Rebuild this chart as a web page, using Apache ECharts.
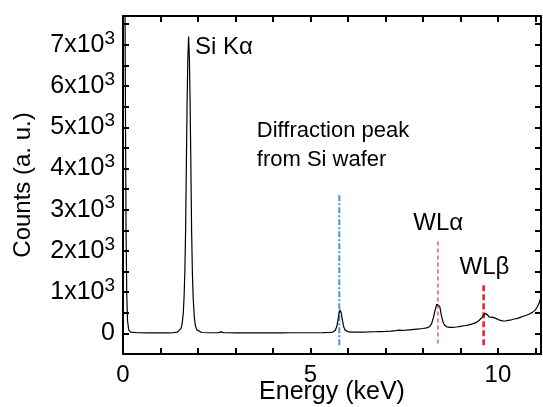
<!DOCTYPE html>
<html>
<head>
<meta charset="utf-8">
<script src="https://cdn.jsdelivr.net/npm/echarts@6/dist/echarts.min.js"></script>
<style>
    html, body { margin: 0; padding: 0; background: #fff; }
    #chart { width: 543px; height: 407px; }
</style>
</head>
<body>
<div id="chart"></div>
<script>
// spectrum (keV, counts)
var energy = [
    0.00, 0.03, 0.06, 0.08, 0.10, 0.12, 0.15, 0.20, 0.40, 0.70, 1.00, 1.20,
    1.35, 1.45, 1.50, 1.55, 1.58, 1.61, 1.63, 1.65, 1.67, 1.69, 1.71, 1.73,
    1.75, 1.77, 1.79, 1.81, 1.83, 1.85, 1.87, 1.90, 1.93, 1.97, 2.02, 2.10,
    2.30, 2.55, 2.62, 2.68, 2.80, 3.00, 3.30, 3.60, 3.90, 4.20, 4.50, 4.80,
    5.10, 5.35, 5.50, 5.60, 5.66, 5.70, 5.73, 5.76, 5.79, 5.82, 5.85, 5.88,
    5.92, 5.96, 6.02, 6.10, 6.25, 6.40, 6.55, 6.70, 6.85, 7.00, 7.15, 7.28,
    7.36, 7.44, 7.55, 7.70, 7.85, 8.00, 8.10, 8.17, 8.23, 8.28, 8.33, 8.37,
    8.41, 8.45, 8.49, 8.53, 8.58, 8.64, 8.72, 8.80, 8.90, 9.00, 9.10, 9.20,
    9.30, 9.40, 9.48, 9.55, 9.61, 9.66, 9.69, 9.72, 9.76, 9.80, 9.84, 9.88,
    9.93, 9.98, 10.05, 10.12, 10.20, 10.28, 10.36, 10.44, 10.52, 10.60, 10.68, 10.76,
    10.84, 10.92, 11.00, 11.05, 11.10, 11.15
];
var counts = [
    20000, 14000, 6500, 2600, 950, 320, 90, 30, 15, 12, 12, 14,
    20, 30, 50, 120, 250, 520, 900, 1500, 2500, 4100, 5600, 6700,
    7200, 6700, 5600, 4100, 2500, 1500, 900, 420, 190, 85, 40, 22,
    16, 18, 35, 20, 16, 14, 14, 13, 14, 14, 15, 15,
    16, 18, 22, 32, 70, 160, 300, 480, 570, 500, 340, 180,
    85, 48, 36, 30, 30, 33, 36, 40, 45, 50, 56, 65,
    80, 72, 78, 92, 105, 118, 135, 160, 230, 380, 580, 710,
    745, 650, 450, 290, 200, 160, 145, 148, 155, 170, 185, 200,
    225, 255, 300, 360, 430, 480, 495, 455, 400, 375, 395, 410,
    370, 345, 320, 305, 300, 315, 330, 350, 365, 390, 415, 440,
    470, 510, 570, 640, 740, 880
];

// vertical marker lines
var markerEnergy = [5.77, 8.40, 9.62];
var markerTop = [3380, 2285, 1215];
var markerBottom = [-290, -245, -290];

// annotations
var noteText = ['Si Kα', 'Diffraction peak\nfrom Si wafer', 'WLα', 'WLβ'];
var noteEnergy = [1.92, 3.57, 8.41, 9.64];
var noteCounts = [6950, 4570, 2680, 1610];

// tick labels
var xLabelValues = [0, 5, 10];
var yLabelValues = [0, 1000, 2000, 3000, 4000, 5000, 6000, 7000];

var FONT = '"Liberation Sans", Arial, sans-serif';
var chart = echarts.init(document.getElementById('chart'), null, {renderer: 'canvas'});

var spectrum = energy.map(function (e, i) { return [e, counts[i]]; });

function axisBase(extra) {
    return Object.assign({
        axisLine: {show: true, onZero: false, lineStyle: {color: '#000', width: 2}},
        axisTick: {show: true, inside: true, length: 6, lineStyle: {color: '#000', width: 2}},
        splitLine: {show: false},
        nameMoveOverlap: false
    }, extra);
}

var markerStyles = [
    {color: '#3b9be0', width: 2, type: [6, 2, 2, 2]},
    {color: '#f04a55', width: 1.4, type: [4, 3]},
    {color: '#e8262e', width: 2.6, type: [6, 3]}
];

var markerSeries = markerEnergy.map(function (e, i) {
    return {
        type: 'line',
        data: [[e, markerBottom[i]], [e, markerTop[i]]],
        symbol: 'none',
        lineStyle: markerStyles[i],
        silent: true,
        z: 1
    };
});

var notes = noteEnergy.map(function (e, i) {
    var lab = i < 2
        ? {position: 'right', distance: 0, align: 'left'}
        : {position: 'inside', align: 'center'};
    lab.color = '#000';
    lab.opacity = 1;
    lab.textBorderWidth = 0;
    lab.fontSize = (i === 1) ? 22 : 24;
    return {value: [e, noteCounts[i]], name: noteText[i], label: lab};
});

var option = {
    backgroundColor: '#fff',
    animation: false,
    grid: {left: 123, right: 2, top: 16, bottom: 53, containLabel: false, outerBoundsMode: 'none'},
    xAxis: [
        axisBase({
            type: 'value', position: 'bottom', min: 0, max: 11.15, interval: 1,
            name: 'Energy (keV)', nameLocation: 'middle', nameGap: 26,
            nameTextStyle: {color: '#000', fontSize: 25, fontFamily: FONT},
            axisLabel: {
                color: '#000', fontSize: 24, fontFamily: FONT, margin: 9,
                showMaxLabel: false,
                formatter: function (v) {
                    return xLabelValues.indexOf(v) >= 0 ? String(v) : '';
                }
            }
        }),
        axisBase({
            type: 'value', position: 'top', min: 0, max: 11.15, interval: 1,
            axisLabel: {show: false}
        })
    ],
    yAxis: [
        axisBase({
            type: 'value', position: 'left', min: -500, max: 7700, interval: 500,
            name: 'Counts (a. u.)', nameLocation: 'middle', nameGap: 88,
            nameTextStyle: {color: '#000', fontSize: 24, fontFamily: FONT},
            axisLabel: {
                color: '#000', fontFamily: FONT, margin: 8,
                showMaxLabel: false,
                formatter: function (v) {
                    if (yLabelValues.indexOf(v) < 0) return '';
                    if (v === 0) return '{a|0}';
                    return '{a|' + (v / 1000) + 'x10}{b|3}';
                },
                rich: {
                    a: {fontSize: 25, fontFamily: FONT, color: '#000', lineHeight: 32},
                    b: {fontSize: 19, fontFamily: FONT, color: '#000', lineHeight: 18, verticalAlign: 'top'}
                }
            }
        }),
        axisBase({
            type: 'value', position: 'right', min: -500, max: 7700, interval: 500,
            axisLabel: {show: false}
        })
    ],
    series: markerSeries.concat([
        {
            type: 'line',
            data: spectrum,
            symbol: 'none',
            lineStyle: {color: '#000', width: 1.2},
            silent: true,
            z: 3
        },
        {
            type: 'scatter',
            symbolSize: 0,
            silent: true,
            itemStyle: {opacity: 1},
            data: notes,
            label: {
                show: true,
                formatter: function (p) { return p.name; },
                color: '#000',
                fontSize: 24,
                fontFamily: FONT,
                lineHeight: 29
            },
            z: 4
        }
    ])
};

chart.setOption(option);
</script>
</body>
</html>
